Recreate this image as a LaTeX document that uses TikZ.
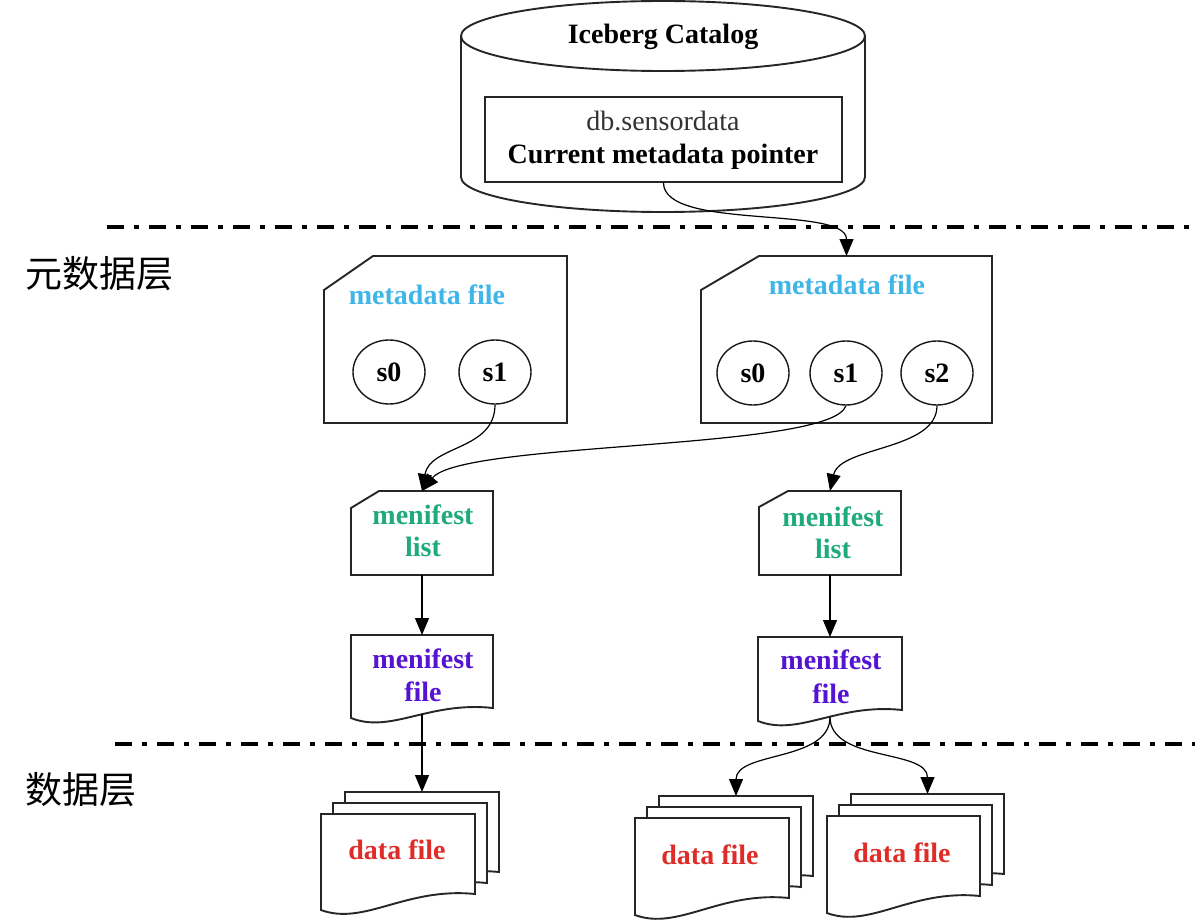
\documentclass[tikz,border=0pt]{standalone}
\usepackage{fontspec}
\setmainfont{Liberation Serif}
\newfontfamily\cjk{Noto Sans CJK SC}
\usetikzlibrary{arrows.meta,shapes.geometric,calc}
\definecolor{mdblue}{RGB}{64,182,232}
\definecolor{mlgreen}{RGB}{30,170,125}
\definecolor{mfpurple}{RGB}{85,20,210}
\definecolor{dfred}{RGB}{222,45,40}
\newcommand{\docsheet}[5]{%
  \draw[boxline] (#1,#2) -- (#3,#2) -- (#3,#5) .. controls ({#1+0.55*(#3-#1)},{#5-7}) and ({#1+0.28*(#3-#1)},{#4+16}) .. (#1,#4) -- cycle;}
\tikzset{
  boxline/.style={draw=black!85, line width=1.9pt, line join=miter, fill=white},
  ghost/.style={draw=none, inner sep=0pt, outer sep=0pt},
  conn/.style={line width=1.2pt, -{Triangle[length=17pt,width=14pt]}},
  lbl/.style={inner sep=0pt, anchor=base, font=\fontsize{28}{31}\selectfont\bfseries},
  snap/.style={ellipse, draw=black!90, line width=1.4pt, fill=white, minimum width=72pt, minimum height=64pt, inner sep=0pt, font=\fontsize{28}{31}\selectfont\bfseries},
  sepline/.style={line width=3.5pt, dash pattern=on 17pt off 10pt on 5pt off 10pt},
  layer/.style={inner sep=0pt, anchor=base west, font=\cjk\fontsize{37}{41}\selectfont}
}
\begin{document}
\begin{tikzpicture}[x=1pt,y=-1pt]
\useasboundingbox[fill=white] (0,0) rectangle (1204,920);

% separators
\draw[sepline] (107,227) -- (1195,227);
\draw[sepline] (115,744) -- (1195,744);
\node[layer] (lay1) at (25,287) {元数据层};
\node[layer] (lay2) at (25,803) {数据层};

% catalog cylinder
\draw[boxline] (461,36) -- (461,177) arc[start angle=180,end angle=360,x radius=202pt,y radius=35pt] -- (865,36) -- cycle;
\draw[boxline] (663,36) ellipse [x radius=202pt, y radius=35pt];
\node[lbl] (cat) at (663,44) {Iceberg Catalog};
\node[boxline, line width=1.6pt, minimum width=357pt, minimum height=85pt, inner sep=0pt] (ptr) at (663.5,139.5) {};
\node[lbl, font=\fontsize{28}{31}\selectfont, text=black!80] (ptra) at (663,131) {db.sensordata};
\node[lbl] (ptrb) at (663,164) {Current metadata pointer};

% metadata files
\node[ghost, minimum width=243pt, minimum height=167pt] (md1) at (445.5,339.5) {};
\draw[boxline] ([xshift=49pt]md1.north west) -- (md1.north east) -- (md1.south east) -- (md1.south west) -- ([yshift=-34pt]md1.north west) -- cycle;
\node[lbl, text=mdblue] (md1t) at (427,304) {metadata file};
\node[snap] (m1s0) at (389,372) {s0};
\node[snap] (m1s1) at (495,372) {s1};

\node[ghost, minimum width=291pt, minimum height=167pt] (md2) at (846.5,339.5) {};
\draw[boxline] ([xshift=58pt]md2.north west) -- (md2.north east) -- (md2.south east) -- (md2.south west) -- ([yshift=-34pt]md2.north west) -- cycle;
\node[lbl, text=mdblue] (md2t) at (847,294) {metadata file};
\node[snap] (m2s0) at (753,373) {s0};
\node[snap] (m2s1) at (846,373) {s1};
\node[snap] (m2s2) at (937,373) {s2};

% manifest lists
\node[ghost, minimum width=142pt, minimum height=84pt] (ml1) at (422,533) {};
\draw[boxline] ([xshift=28pt]ml1.north west) -- (ml1.north east) -- (ml1.south east) -- (ml1.south west) -- ([yshift=-17pt]ml1.north west) -- cycle;
\node[lbl, text=mlgreen] (ml1a) at (423,524) {menifest};
\node[lbl, text=mlgreen] (ml1b) at (423,556) {list};

\node[ghost, minimum width=142pt, minimum height=84pt] (ml2) at (830,533) {};
\draw[boxline] ([xshift=29pt]ml2.north west) -- (ml2.north east) -- (ml2.south east) -- (ml2.south west) -- ([yshift=-16pt]ml2.north west) -- cycle;
\node[lbl, text=mlgreen] (ml2a) at (833,526) {menifest};
\node[lbl, text=mlgreen] (ml2b) at (833,558) {list};

% manifest files
\node[ghost, minimum width=142pt, minimum height=73pt] (mf1) at (422,671.5) {};
\docsheet{351}{635}{493}{718}{708}
\coordinate (mf1bot) at (422,714);
\node[lbl, text=mfpurple] (mf1a) at (423,668) {menifest};
\node[lbl, text=mfpurple] (mf1b) at (423,701) {file};

\node[ghost, minimum width=144pt, minimum height=73pt] (mf2) at (830,673.5) {};
\docsheet{758}{637}{902}{721}{710}
\coordinate (mf2bot) at (830,717);
\node[lbl, text=mfpurple] (mf2a) at (831,669) {menifest};
\node[lbl, text=mfpurple] (mf2b) at (831,703) {file};

% data files
\node[ghost, minimum width=154pt, minimum height=80pt] (df1) at (422,832) {};
\docsheet{345}{792}{499}{888}{872}
\docsheet{333}{803}{487}{899}{883}
\docsheet{321}{814}{475}{910}{894}
\node[lbl, text=dfred] (df1t) at (397,859) {data file};

\node[ghost, minimum width=154pt, minimum height=80pt] (df2) at (736,836) {};
\docsheet{659}{796}{813}{893}{876}
\docsheet{647}{807}{801}{904}{887}
\docsheet{635}{818}{789}{915}{898}
\node[lbl, text=dfred] (df2t) at (710,864) {data file};

\node[ghost, minimum width=153pt, minimum height=80pt] (df3) at (927.5,834) {};
\docsheet{851}{794}{1004}{891}{874}
\docsheet{839}{805}{992}{902}{885}
\docsheet{827}{816}{980}{913}{896}
\node[lbl, text=dfred] (df3t) at (902,862) {data file};

% connectors
\draw[conn] (ptr.south) .. controls +(0,48) and +(0,-51) .. (md2.north);
\draw[conn] (m1s1.south) .. controls +(0,46) and +(8,-46) .. (ml1.north);
\draw[conn] (m2s1.south) .. controls +(-15,45) and +(40,-50) .. (ml1.north);
\draw[conn] (m2s2.south) .. controls +(0,45) and +(10,-45) .. (ml2.north);
\draw[conn] (ml1.south) -- (mf1.north);
\draw[conn] (ml2.south) -- (mf2.north);
\draw[conn] (mf1bot) -- (df1.north);
\draw[conn] (mf2bot) .. controls +(0,45) and +(0,-45) .. (df2.north);
\draw[conn] (mf2bot) .. controls +(0,45) and +(0,-45) .. (df3.north);
\end{tikzpicture}
\end{document}
